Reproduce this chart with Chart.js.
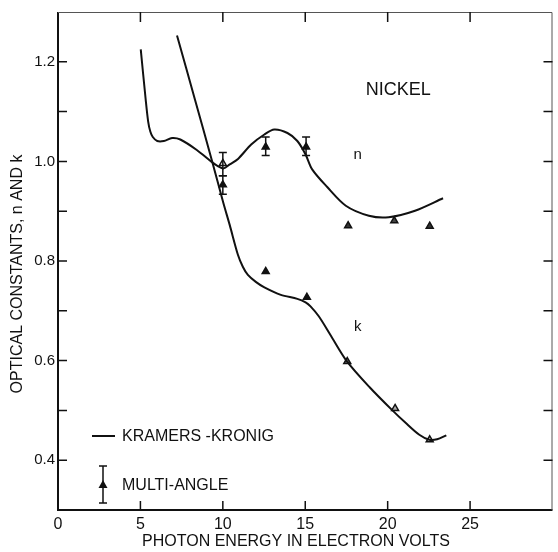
<!DOCTYPE html>
<html><head><meta charset="utf-8">
<script src="https://cdn.jsdelivr.net/npm/chart.js@4.4.1/dist/chart.umd.min.js"></script>
<style>html,body{margin:0;padding:0;background:#fff;}#wrap{width:558px;height:552px;position:relative;}</style>
</head><body><div id="wrap"><canvas id="c" width="558" height="552"></canvas></div>
<script>
// ---- data ----
const xTickLabels = ['0','5','10','15','20','25'];
const yTickLabels = ['0.4','0.6','0.8','1.0','1.2'];
const xTitle = 'PHOTON ENERGY IN ELECTRON VOLTS';
const yTitle = 'OPTICAL CONSTANTS, n AND k';
const legendTexts = ['KRAMERS -KRONIG', 'MULTI-ANGLE'];

// Kramers-Kronig curves
const kkNx = [5.02, 5.32, 5.47, 5.6, 5.75, 6.02, 6.42, 6.92, 7.42, 8.42, 9.32, 9.72, 10.05, 10.42, 10.92, 11.72, 12.52, 13.12, 13.92, 14.52, 15.02, 15.42, 16.32, 17.46, 18.86, 20.06, 21.66, 23.36];
const kkNy = [1.225, 1.124, 1.08, 1.06, 1.049, 1.041, 1.041, 1.047, 1.044, 1.023, 0.999, 0.990, 0.986, 0.994, 1.005, 1.034, 1.054, 1.064, 1.057, 1.041, 1.014, 0.984, 0.949, 0.911, 0.891, 0.888, 0.901, 0.926];
const kkKx = [7.22, 8.32, 9.32, 10.02, 10.42, 10.92, 11.22, 11.52, 12.0, 12.52, 13.52, 14.52, 15.02, 15.32, 15.82, 16.52, 17.52, 18.92, 20.32, 21.12, 21.92, 22.52, 23.0, 23.56];
const kkKy = [1.253, 1.123, 1.004, 0.918, 0.872, 0.812, 0.788, 0.772, 0.758, 0.747, 0.732, 0.724, 0.717, 0.709, 0.689, 0.652, 0.599, 0.546, 0.499, 0.474, 0.451, 0.441, 0.442, 0.450];

// Multi-angle measurements
const maNx = [10.0, 12.6, 15.05, 17.6, 20.4, 22.55];
const maNy = [0.996, 1.029, 1.029, 0.871, 0.881, 0.870];
const maNlow = [0.971, 1.012, 1.012, null, null, null];
const maNhigh = [1.018, 1.049, 1.049, null, null, null];
const maKx = [10.0, 12.6, 15.1, 17.55, 20.45, 22.55];
const maKy = [0.953, 0.779, 0.727, 0.598, 0.504, 0.441];
const maKlow = [0.934, null, null, null, null, null];
const maKhigh = [0.971, null, null, null, null, null];

// in-plot labels (data coordinates)
const noteTexts = ['NICKEL', 'n', 'k'];
const noteX = [20.64, 18.18, 18.18];
const noteY = [1.143, 1.014, 0.667];
const noteSizes = [18, 15, 15];

// ---- chart ----
const FONT = "'Liberation Sans', Arial, Helvetica, sans-serif";
const INK = '#111';
Chart.defaults.font.family = FONT;
Chart.defaults.color = INK;

function pts(X, Y) { return X.map((x, i) => ({x: x, y: Y[i]})); }

const decor = {
  id: 'decor',
  afterDatasetsDraw(chart) {
    const ctx = chart.ctx, xs = chart.scales.x, ys = chart.scales.y;
    ctx.save();
    ctx.strokeStyle = INK; ctx.lineWidth = 1.5;
    const bars = (X, L, H) => X.forEach((x, i) => {
      if (L[i] == null) return;
      const px = xs.getPixelForValue(x), pl = ys.getPixelForValue(L[i]), ph = ys.getPixelForValue(H[i]);
      ctx.beginPath();
      ctx.moveTo(px, pl); ctx.lineTo(px, ph);
      ctx.moveTo(px - 4, pl); ctx.lineTo(px + 4, pl);
      ctx.moveTo(px - 4, ph); ctx.lineTo(px + 4, ph);
      ctx.stroke();
    });
    bars(maNx, maNlow, maNhigh);
    bars(maKx, maKlow, maKhigh);
    ctx.restore();
  },
  afterDraw(chart) {
    const ctx = chart.ctx, a = chart.chartArea, xs = chart.scales.x, ys = chart.scales.y;
    ctx.save();
    // frame
    ctx.strokeStyle = INK;
    ctx.lineWidth = 2;
    ctx.beginPath();
    ctx.moveTo(a.left, a.top); ctx.lineTo(a.left, a.bottom); ctx.lineTo(a.right, a.bottom);
    ctx.stroke();
    ctx.strokeStyle = '#555'; ctx.lineWidth = 1;
    ctx.beginPath();
    ctx.moveTo(a.left, a.top + 0.5); ctx.lineTo(a.right - 0.5, a.top + 0.5); ctx.lineTo(a.right - 0.5, a.bottom);
    ctx.stroke();
    // inward ticks
    ctx.strokeStyle = INK; ctx.lineWidth = 1.5;
    ctx.beginPath();
    xs.ticks.forEach(t => {
      if (t.value <= xs.min || t.value >= xs.max) return;
      const px = xs.getPixelForValue(t.value);
      ctx.moveTo(px, a.bottom); ctx.lineTo(px, a.bottom - 9);
      ctx.moveTo(px, a.top); ctx.lineTo(px, a.top + 10);
    });
    ys.ticks.forEach(t => {
      if (t.value <= ys.min + 1e-6 || t.value >= ys.max - 1e-6) return;
      const py = ys.getPixelForValue(t.value);
      ctx.moveTo(a.left, py); ctx.lineTo(a.left + 9, py);
      ctx.moveTo(a.right, py); ctx.lineTo(a.right - 9, py);
    });
    ctx.stroke();
    // notes
    ctx.fillStyle = INK; ctx.textAlign = 'center'; ctx.textBaseline = 'middle';
    noteTexts.forEach((s, i) => {
      ctx.font = noteSizes[i] + 'px ' + FONT;
      ctx.fillText(s, xs.getPixelForValue(noteX[i]), ys.getPixelForValue(noteY[i]));
    });
    // axis titles
    ctx.font = '16px ' + FONT;
    ctx.fillText(xTitle, a.left + 238, a.bottom + 32);
    ctx.save();
    ctx.translate(a.left - 40, a.top + 262);
    ctx.rotate(-Math.PI / 2);
    ctx.fillText(yTitle, 0, 0);
    ctx.restore();
    // legend
    const lx = a.left + 34, ly1 = a.top + 424, ly2 = a.top + 473;
    ctx.lineWidth = 2;
    ctx.beginPath(); ctx.moveTo(lx, ly1); ctx.lineTo(lx + 23, ly1); ctx.stroke();
    const ex = lx + 11;
    ctx.lineWidth = 1.5;
    ctx.beginPath();
    ctx.moveTo(ex, ly2 - 19); ctx.lineTo(ex, ly2 + 18);
    ctx.moveTo(ex - 4, ly2 - 19); ctx.lineTo(ex + 4, ly2 - 19);
    ctx.moveTo(ex - 4, ly2 + 18); ctx.lineTo(ex + 4, ly2 + 18);
    ctx.stroke();
    ctx.beginPath();
    ctx.moveTo(ex, ly2 - 5); ctx.lineTo(ex + 4.5, ly2 + 3); ctx.lineTo(ex - 4.5, ly2 + 3); ctx.closePath();
    ctx.fill();
    ctx.textAlign = 'left';
    ctx.font = '16px ' + FONT;
    ctx.fillText(legendTexts[0], lx + 30, ly1 + 1);
    ctx.fillText(legendTexts[1], lx + 30, ly2 + 1);
    ctx.restore();
  }
};

new Chart(document.getElementById('c'), {
  type: 'line',
  data: {
    datasets: [
      {label: 'n (Kramers-Kronig)', data: pts(kkNx, kkNy), borderColor: INK, borderWidth: 2, pointRadius: 0, tension: 0.3, fill: false},
      {label: 'k (Kramers-Kronig)', data: pts(kkKx, kkKy), borderColor: INK, borderWidth: 2, pointRadius: 0, tension: 0.3, fill: false},
      {label: 'n (multi-angle)', data: pts(maNx, maNy), showLine: false, pointStyle: 'triangle', pointRadius: 4,
        backgroundColor: ['#fff', INK, INK, '#333', '#444', '#333'], borderColor: INK, borderWidth: 1.5},
      {label: 'k (multi-angle)', data: pts(maKx, maKy), showLine: false, pointStyle: 'triangle', pointRadius: 4,
        backgroundColor: [INK, INK, INK, '#777', '#aaa', '#ddd'], borderColor: INK, borderWidth: 1.5}
    ]
  },
  options: {
    responsive: false, animation: false, devicePixelRatio: 1,
    layout: {padding: {top: 6, right: 1, left: 0, bottom: 0}},
    plugins: {legend: {display: false}, tooltip: {enabled: false}},
    scales: {
      x: {type: 'linear', min: 0, max: 30,
        afterFit(s) { s.height = 42; },
        grid: {display: false, drawTicks: false}, border: {display: false},
        ticks: {stepSize: 5, padding: 5, font: {size: 16}, color: INK,
          callback: v => xTickLabels.includes(String(v)) ? String(v) : ''}},
      y: {type: 'linear', min: 0.3, max: 1.3,
        afterFit(s) { s.width = 58; },
        grid: {display: false, drawTicks: false}, border: {display: false},
        ticks: {stepSize: 0.1, padding: 3, font: {size: 15}, color: INK,
          callback: v => { const s = Number(v).toFixed(1); return yTickLabels.includes(s) ? s : ''; }}}
    }
  },
  plugins: [decor]
});
</script></body></html>
